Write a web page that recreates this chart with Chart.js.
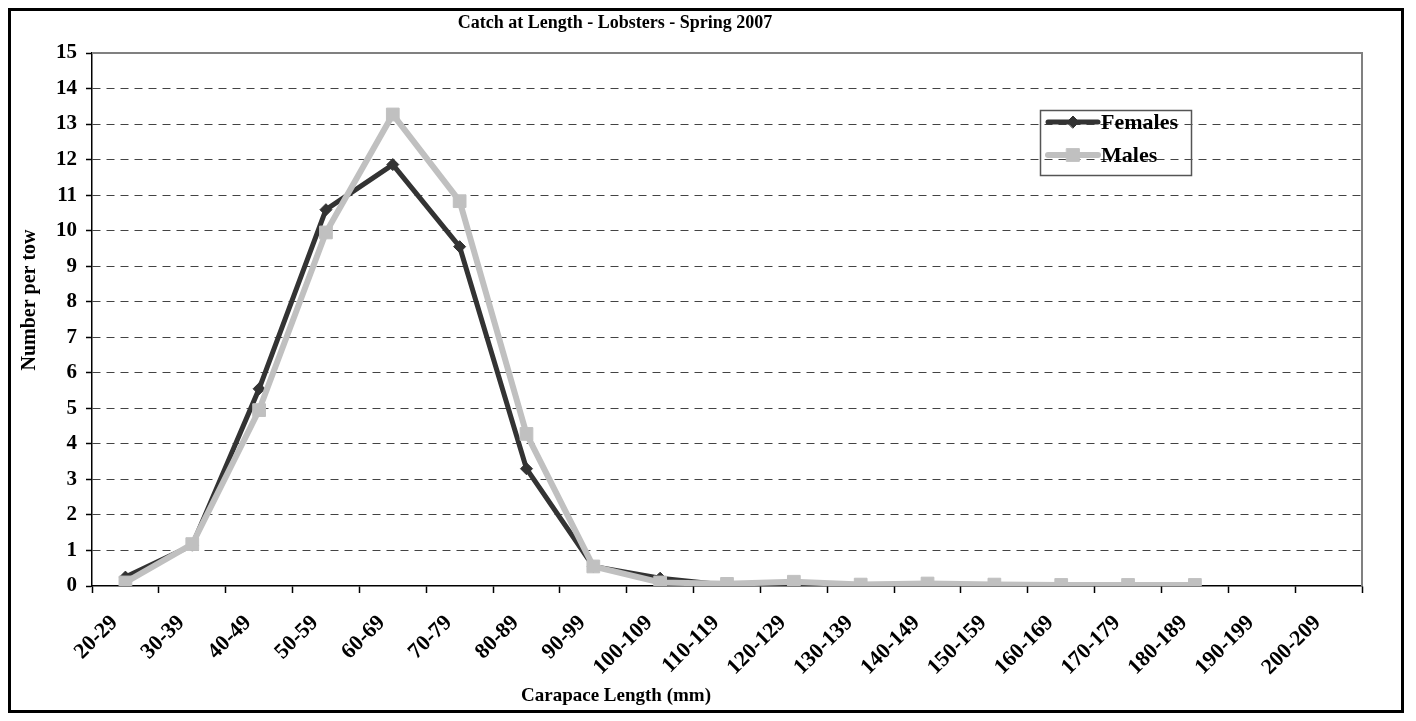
<!DOCTYPE html>
<html>
<head>
<meta charset="utf-8">
<title>Catch at Length - Lobsters - Spring 2007</title>
<script src="https://cdn.jsdelivr.net/npm/chart.js@4.4.1/dist/chart.umd.min.js"></script>
<style>
    html, body { margin: 0; padding: 0; background: #fff; }
    #wrap { position: relative; width: 1416px; height: 721px; }
</style>
</head>
<body>
<div id="wrap"><canvas id="lengthChart" width="1416" height="721"></canvas></div>
<script>
// Carapace length classes (mm)
var lengthClasses = ['20-29', '30-39', '40-49', '50-59', '60-69', '70-79', '80-89', '90-99',
    '100-109', '110-119', '120-129', '130-139', '140-149', '150-159', '160-169',
    '170-179', '180-189', '190-199', '200-209'];

// Number per tow, by sex
var females = [0.25, 1.15, 5.55, 10.59, 11.86, 9.55, 3.3, 0.55, 0.22, 0.02, 0.05, 0.01,
    0.03, 0.02, 0.01, 0.01, 0.01, null, null];
var males = [0.1, 1.18, 4.95, 9.95, 13.27, 10.83, 4.28, 0.55, 0.1, 0.06, 0.12, 0.04,
    0.07, 0.04, 0.03, 0.03, 0.03, null, null];

// Y axis range
var yMin = 0;
var yMax = 15;
var yStep = 1;

var serif = '"Liberation Serif", "Times New Roman", serif';

// Frame, plot border, titles and legend drawn by hand
var decorPlugin = {
    id: 'decor',
    beforeDraw: function (chart) {
        var ctx = chart.ctx;
        ctx.save();
        ctx.fillStyle = '#fff';
        ctx.fillRect(0, 0, chart.width, chart.height);
        ctx.restore();
    },
    afterDraw: function (chart) {
        var ctx = chart.ctx;
        var a = chart.chartArea;
        ctx.save();

        // gray plot area border (top and right)
        ctx.strokeStyle = '#808080';
        ctx.lineWidth = 2;
        ctx.beginPath();
        ctx.moveTo(a.left, a.top);
        ctx.lineTo(a.right, a.top);
        ctx.lineTo(a.right, a.bottom);
        ctx.stroke();

        // outer frame
        ctx.strokeStyle = '#000';
        ctx.lineWidth = 3;
        ctx.strokeRect(9.5, 9.5, 1393, 702);

        // titles
        ctx.fillStyle = '#000';
        ctx.textAlign = 'center';
        ctx.textBaseline = 'middle';
        ctx.font = 'bold 18px ' + serif;
        ctx.fillText('Catch at Length - Lobsters - Spring 2007', 615, 23);
        ctx.font = 'bold 19px ' + serif;
        ctx.fillText('Carapace Length (mm)', 616, 696);
        ctx.font = 'bold 20px ' + serif;
        ctx.translate(30, 300);
        ctx.rotate(-Math.PI / 2);
        ctx.fillText('Number per tow', 0, 0);
        ctx.setTransform(1, 0, 0, 1, 0, 0);

        // legend box
        ctx.strokeStyle = '#555';
        ctx.lineWidth = 1.5;
        ctx.strokeRect(1040.5, 110.5, 151, 65);
        ctx.textAlign = 'left';
        ctx.font = 'bold 22px ' + serif;
        var legendOrder = [1, 0];
        legendOrder.forEach(function (di, row) {
            var ds = chart.data.datasets[di];
            var y = 122 + row * 33;
            ctx.strokeStyle = ds.borderColor;
            ctx.lineWidth = ds.borderWidth;
            ctx.lineCap = 'round';
            ctx.beginPath();
            ctx.moveTo(1048, y);
            ctx.lineTo(1098, y);
            ctx.stroke();
            ctx.fillStyle = ds.pointBackgroundColor;
            ctx.strokeStyle = ds.pointBorderColor;
            ctx.lineWidth = 1;
            Chart.helpers.drawPoint(ctx, {
                pointStyle: ds.pointStyle,
                radius: ds.pointRadius,
                rotation: 0,
                borderWidth: 1
            }, 1073, y);
            ctx.fillStyle = '#000';
            ctx.fillText(ds.label, 1101, y + 1);
        });

        ctx.restore();
    }
};

var ctx = document.getElementById('lengthChart').getContext('2d');

var lengthChart = new Chart(ctx, {
    type: 'line',
    data: {
        labels: lengthClasses,
        datasets: [{
            label: 'Males',
            data: males,
            order: 0,
            borderColor: '#c0c0c0',
            borderWidth: 6,
            pointStyle: 'rect',
            pointRadius: 9,
            pointBackgroundColor: '#c0c0c0',
            pointBorderColor: '#c0c0c0',
            pointBorderWidth: 1,
            tension: 0,
            fill: false
        }, {
            label: 'Females',
            data: females,
            order: 1,
            borderColor: '#333333',
            borderWidth: 5,
            pointStyle: 'rectRot',
            pointRadius: 6,
            pointBackgroundColor: '#333333',
            pointBorderColor: '#333333',
            pointBorderWidth: 1,
            tension: 0,
            fill: false
        }]
    },
    options: {
        responsive: false,
        animation: false,
        layout: {
            padding: { left: 0, right: 54, top: 53, bottom: 0 }
        },
        plugins: {
            legend: { display: false },
            title: { display: false },
            tooltip: { enabled: false }
        },
        scales: {
            x: {
                offset: true,
                grid: {
                    offset: true,
                    drawOnChartArea: false,
                    drawTicks: true,
                    tickLength: 7,
                    tickColor: '#000',
                    tickWidth: 1.5
                },
                border: { display: true, color: '#000', width: 1.5 },
                ticks: {
                    autoSkip: false,
                    minRotation: 45,
                    maxRotation: 45,
                    padding: 17,
                    labelOffset: -11,
                    color: '#000',
                    font: { family: serif, size: 22, weight: 'bold' }
                },
                afterFit: function (scale) {
                    scale.height = 135;
                }
            },
            y: {
                min: yMin,
                max: yMax,
                ticks: {
                    stepSize: yStep,
                    padding: 9,
                    color: '#000',
                    font: { family: serif, size: 21, weight: 'bold' }
                },
                grid: {
                    color: function (c) {
                        if (c.tick && (c.tick.value === yMin || c.tick.value === yMax)) {
                            return 'rgba(0,0,0,0)';
                        }
                        return '#444';
                    },
                    lineWidth: 1,
                    drawTicks: true,
                    tickLength: 6,
                    tickColor: '#000',
                    tickWidth: 1.5
                },
                border: { display: true, color: '#000', width: 1.5, dash: [8, 6] },
                afterFit: function (scale) {
                    scale.width = 92;
                }
            }
        }
    },
    plugins: [decorPlugin]
});
</script>
</body>
</html>
